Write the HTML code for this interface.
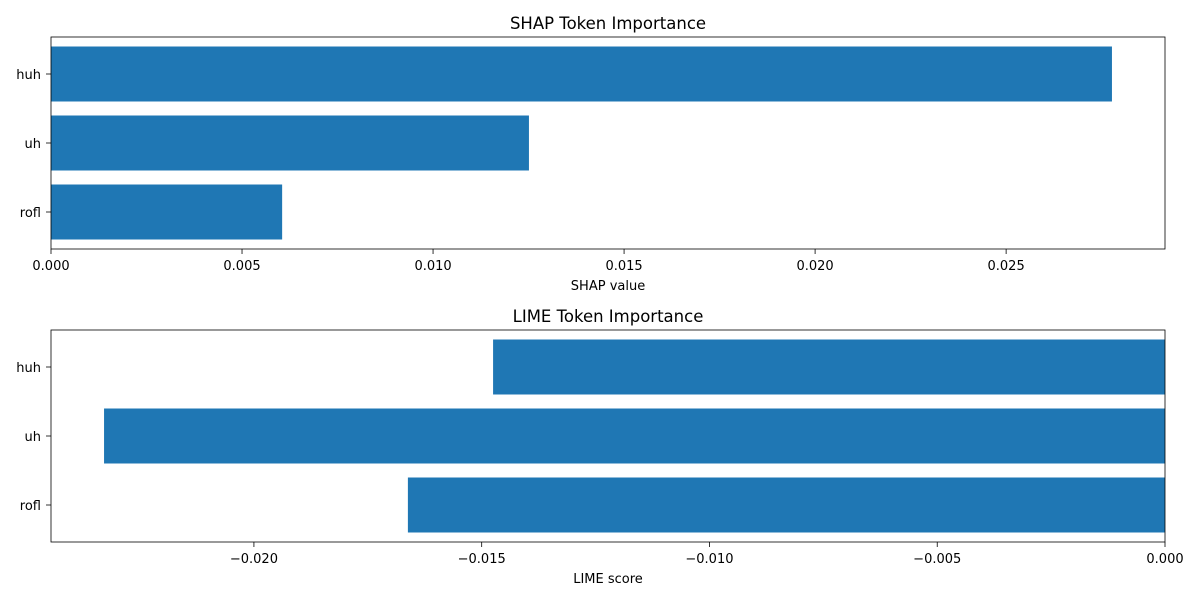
<!DOCTYPE html>
<html><head><meta charset="utf-8"><style>
body{margin:0;background:#fff}
text{font-family:"DejaVu Sans","Liberation Sans",sans-serif;fill:#000}
</style></head><body>
<svg id="chart" width="1200" height="600" xmlns="http://www.w3.org/2000/svg"></svg>
<script>
const tokens = ["huh","uh","rofl"];
const shapValues = [0.02777, 0.01251, 0.00605];
const limeValues = [-0.01475, -0.02329, -0.01662];
const shapTicks = [0, 0.005, 0.010, 0.015, 0.020, 0.025];
const shapTickLabels = ["0.000","0.005","0.010","0.015","0.020","0.025"];
const limeTicks = [-0.020, -0.015, -0.010, -0.005, 0];
const limeTickLabels = ["\u22120.020","\u22120.015","\u22120.010","\u22120.005","0.000"];

const svg = document.getElementById('chart');
const NS = "http://www.w3.org/2000/svg";
function mk(tag, attrs, parent){const e=document.createElementNS(NS,tag);for(const k in attrs)e.setAttribute(k,attrs[k]);(parent||svg).appendChild(e);return e;}

function panel(cfg){
  const g = mk('g',{});
  
  
  const L=51,R=1165,T=cfg.top,B=cfg.top+212;
  const xs = v => L + (v - cfg.xmin)/(cfg.xmax - cfg.xmin)*(R-L);
  const band = 69, h = 55, c0 = T + 37;
  const ys = i => c0 + i*band;
  cfg.values.forEach((v,i)=>{
    const x0 = Math.min(xs(0), xs(v)), x1 = Math.max(xs(0), xs(v));
    const r = mk('rect',{x:x0,y:ys(i)-h/2,width:x1-x0,height:h,fill:'#1f77b4'},g);
    
    
    mk('line',{x1:L-5,x2:L,y1:ys(i),y2:ys(i),stroke:'#000','stroke-width':0.8},g);
    const t = mk('text',{x:L-10,y:ys(i)+5,'text-anchor':'end','font-size':13},g);
    t.textContent = tokens[i];
    
    
  });
  cfg.ticks.forEach((v,i)=>{
    const x = xs(v);
    mk('line',{x1:x,x2:x,y1:B,y2:B+5,stroke:'#000','stroke-width':0.8},g);
    const t = mk('text',{x:x,y:B+21,'text-anchor':'middle','font-size':13},g);
    t.textContent = cfg.labels[i];
    
    
  });
  mk('rect',{x:L,y:T,width:R-L,height:B-T,fill:'none',stroke:'#000','stroke-width':0.8},g);
  const ti = mk('text',{x:608,y:T-8,'text-anchor':'middle','font-size':16.5},g);
  ti.textContent = cfg.title;
  
  
  const xl = mk('text',{x:608,y:B+41,'text-anchor':'middle','font-size':13},g);
  xl.textContent = cfg.xlabel;
  
  
}
const sMax = Math.max(...shapValues)*1.05;
panel({name:'shap-panel',top:37,values:shapValues,xmin:0,xmax:sMax,ticks:shapTicks,labels:shapTickLabels,title:'SHAP Token Importance',xlabel:'SHAP value'});
const lMin = Math.min(...limeValues)*1.05;
panel({name:'lime-panel',top:330,values:limeValues,xmin:lMin,xmax:0,ticks:limeTicks,labels:limeTickLabels,title:'LIME Token Importance',xlabel:'LIME score'});
</script>
</body></html>
